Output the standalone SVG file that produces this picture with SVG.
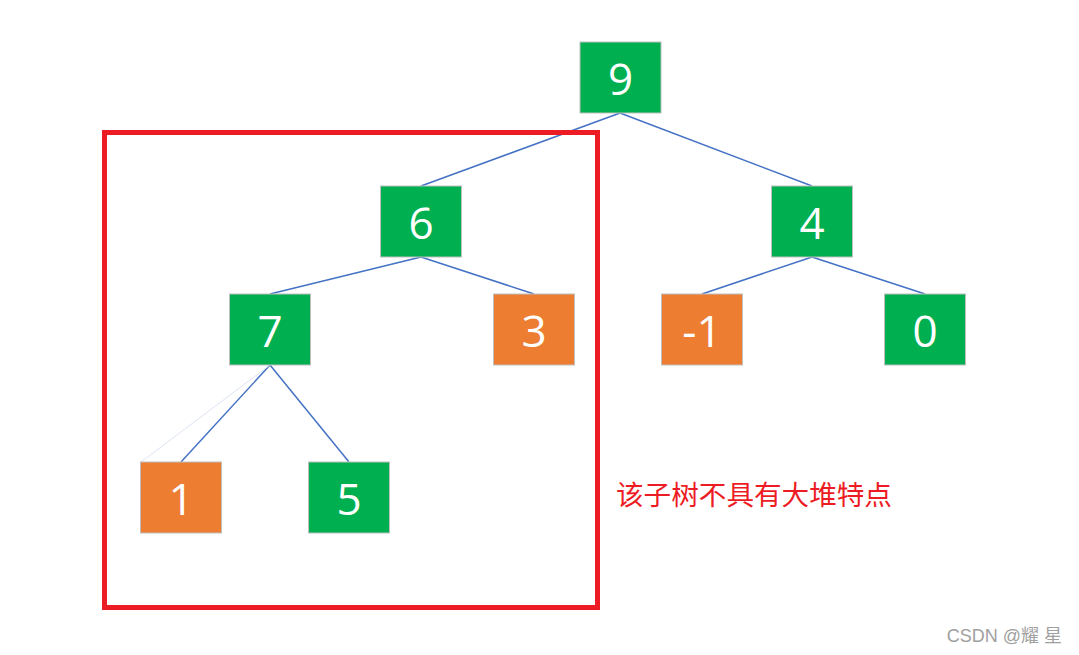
<svg xmlns="http://www.w3.org/2000/svg" width="1079" height="655" viewBox="0 0 1079 655">
<style>
.g{fill:#00B050;stroke:#BFBFBF;stroke-width:1}
.o{fill:#ED7D31;stroke:#BFBFBF;stroke-width:1}
.t{fill:#fff;font-family:"Open Sans","Liberation Sans",sans-serif;font-size:44px;text-anchor:middle;dominant-baseline:central}
.e{stroke:#4472C4;stroke-width:1.5;fill:none}
</style>
<rect width="1079" height="655" fill="#fff"/>
<g id="connectors">
<line class="e" x1="620" y1="113" x2="421" y2="186"/>
<line class="e" x1="620" y1="113" x2="812" y2="186"/>
<line class="e" x1="421" y1="257" x2="270" y2="294"/>
<line class="e" x1="421" y1="257" x2="534" y2="294"/>
<line class="e" x1="812" y1="257" x2="702" y2="294"/>
<line class="e" x1="812" y1="257" x2="925" y2="294"/>
<line class="e" x1="270" y1="365" x2="181" y2="462"/>
<line class="e" x1="270" y1="365" x2="349" y2="462"/>
<line x1="270" y1="365" x2="141" y2="462" stroke="#DCE3F2" stroke-width="1"/>
</g>
<g id="n9"><rect class="g" x="580" y="42" width="81" height="71"/><text class="t" x="620.5" y="77.5">9</text></g>
<g id="n6"><rect class="g" x="380.5" y="186" width="81" height="71"/><text class="t" x="421" y="221.5">6</text></g>
<g id="n4"><rect class="g" x="771.5" y="186" width="81" height="71"/><text class="t" x="812" y="221.5">4</text></g>
<g id="n7"><rect class="g" x="229.5" y="294" width="81" height="71"/><text class="t" x="270" y="329.5">7</text></g>
<g id="n3"><rect class="o" x="493.5" y="294" width="81" height="71"/><text class="t" x="534" y="329.5">3</text></g>
<g id="nm1"><rect class="o" x="661.5" y="294" width="81" height="71"/><text class="t" x="702" y="329.5">-1</text></g>
<g id="n0"><rect class="g" x="884.5" y="294" width="81" height="71"/><text class="t" x="925" y="329.5">0</text></g>
<g id="n1"><rect class="o" x="140.5" y="462" width="81" height="71"/><text class="t" x="181" y="497.5">1</text></g>
<g id="n5"><rect class="g" x="308.5" y="462" width="81" height="71"/><text class="t" x="349" y="497.5">5</text></g>
<g id="highlight">
<rect x="104.5" y="132.5" width="493" height="475" fill="none" stroke="#ED1C24" stroke-width="5"/>
<text x="616" y="505" fill="#ED1C24" font-family="'Noto Sans CJK SC',sans-serif" font-size="27.6">该子树不具有大堆特点</text>
</g>
<text x="1062" y="642" fill="#A0A0A0" font-family="'Liberation Sans','Noto Sans CJK SC',sans-serif" font-size="18" text-anchor="end">CSDN @耀 星</text>
</svg>
